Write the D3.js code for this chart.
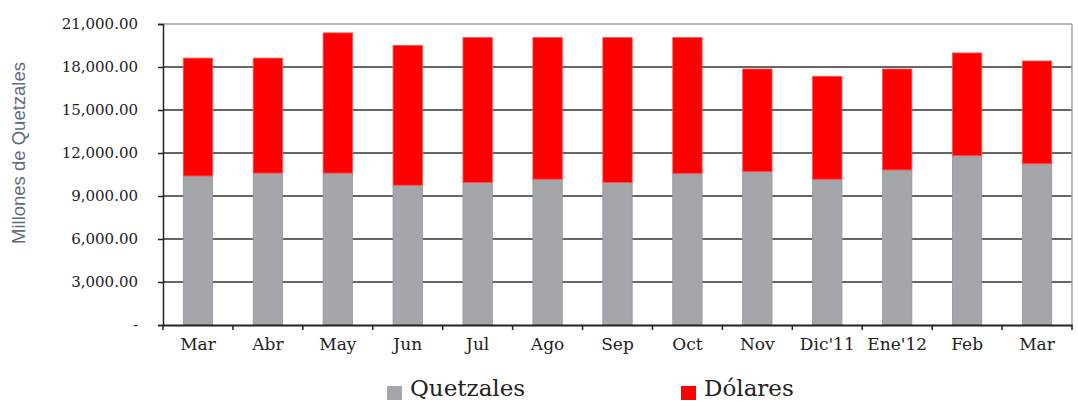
<!DOCTYPE html>
<html><head><meta charset="utf-8">
<script src="https://cdn.jsdelivr.net/npm/d3@7"></script>
<style>body{margin:0;background:#fff}</style>
</head><body>
<svg id="c" width="1078" height="403"></svg>
<script>
const categories = ["Mar","Abr","May","Jun","Jul","Ago","Sep","Oct","Nov","Dic'11","Ene'12","Feb","Mar"];
const quetzales = [10400,10600,10600,9750,9950,10170,9950,10580,10700,10170,10820,11810,11250];
const dolaresTotal = [18620,18620,20380,19510,20050,20050,20050,20050,17860,17350,17860,18980,18420];
const dolares = dolaresTotal.map((t,i)=>t-quetzales[i]);
const yTicks = [0,3000,6000,9000,12000,15000,18000,21000];
const seriesNames = ["Quetzales","Dólares"];
const colors = ["#a5a6aa","#ff0000"];

const svg = d3.select("#c");
const m = {l:163, r:1072, t:24, b:325};
const x = d3.scaleBand().domain(d3.range(categories.length)).range([m.l,m.r]).paddingInner(0.58).paddingOuter(0.29);
const xb = d3.scaleBand().domain(d3.range(categories.length)).range([m.l,m.r]);
const y = d3.scaleLinear().domain([0,21000]).range([m.b,m.t]);
const fmt = v => v===0 ? "-" : d3.format(",.2f")(v);
const serif = "'DejaVu Serif', serif";

// gridlines
svg.append("g").selectAll("line").data(yTicks.filter(v=>v>0 && v<21000)).join("line")
  .attr("x1",m.l).attr("x2",m.r).attr("y1",d=>y(d)).attr("y2",d=>y(d))
  .attr("stroke","#333").attr("stroke-width",1.5);
// top & right border
svg.append("line").attr("x1",m.l).attr("x2",m.r).attr("y1",y(21000)).attr("y2",y(21000)).attr("stroke","#a0a0a0").attr("stroke-width",1.5);
svg.append("line").attr("x1",m.r).attr("x2",m.r).attr("y1",y(21000)).attr("y2",m.b).attr("stroke","#a0a0a0").attr("stroke-width",1.5);

// bars
const stack = d3.stack().keys([0,1])((categories.map((c,i)=>({0:quetzales[i],1:dolares[i]}))));
svg.append("g").selectAll("g").data(stack).join("g")
  .attr("fill",(d,i)=>colors[i]).attr("stroke",(d,i)=>i===0?"#96979b":"#ff5050").attr("stroke-width",0.8)
  .selectAll("rect").data(d=>d).join("rect")
  .attr("x",(d,i)=>x(i)).attr("width",x.bandwidth())
  .attr("y",d=>y(d[1])).attr("height",d=>y(d[0])-y(d[1]));

// y axis
const ya = svg.append("g").attr("transform",`translate(${m.l},0)`)
  .call(d3.axisLeft(y).tickValues(yTicks).tickFormat(fmt).tickSize(5).tickPadding(20));
ya.select(".domain").attr("stroke","#222").attr("stroke-width",1.5);
ya.selectAll(".tick line").attr("stroke","#222").attr("stroke-width",1.5);
ya.selectAll("text").attr("font-family",serif).attr("font-size",15).attr("fill","#222");

// x axis
const xa = svg.append("g").attr("transform",`translate(0,${m.b})`)
  .call(d3.axisBottom(xb).tickFormat(i=>categories[i]).tickSize(0).tickPadding(13));
xa.select(".domain").attr("stroke","#222").attr("stroke-width",2);
xa.selectAll("text").attr("font-family",serif).attr("font-size",17).attr("fill","#222");
svg.append("g").selectAll("line").data(d3.range(categories.length+1)).join("line")
  .attr("x1",i=>m.l+i*xb.step()).attr("x2",i=>m.l+i*xb.step())
  .attr("y1",m.b).attr("y2",m.b+5).attr("stroke","#222").attr("stroke-width",1.5);

// y title
svg.append("text").attr("transform","translate(25,153) rotate(-90)")
  .attr("text-anchor","middle").attr("font-family","'Liberation Sans', Arial, sans-serif")
  .attr("font-size",18.5).attr("fill","#5c6b7d").text("Millones de Quetzales");

// legend
const lx = [387,681];
const lg = svg.append("g").selectAll("g").data(seriesNames).join("g")
  .attr("transform",(d,i)=>`translate(${lx[i]},0)`);
lg.append("rect").attr("x",0).attr("y",386).attr("width",15).attr("height",14)
  .attr("fill",(d,i)=>colors[i]);
lg.append("text").attr("x",23).attr("y",396).attr("font-family",serif).attr("font-size",23)
  .attr("fill","#222").text(d=>d);
</script>
</body></html>
